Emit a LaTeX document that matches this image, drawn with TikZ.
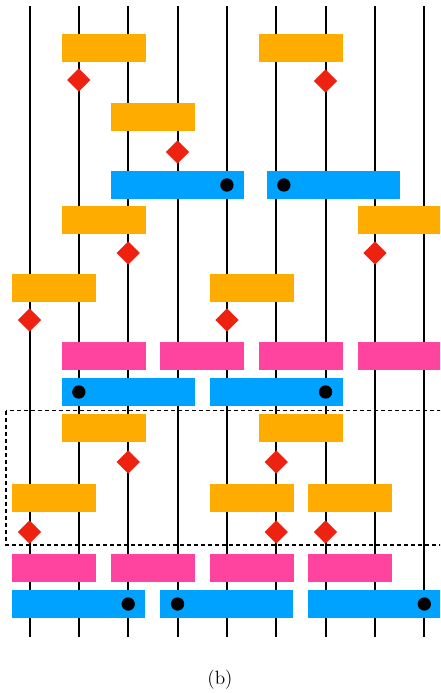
\documentclass[tikz,border=0pt]{standalone}
\usetikzlibrary{shapes.geometric}

\definecolor{opOrange}{RGB}{255,172,0}
\definecolor{opBlue}{RGB}{0,162,255}
\definecolor{opPink}{RGB}{255,68,160}
\definecolor{opRed}{RGB}{238,34,17}

\begin{document}
\begin{tikzpicture}[x=37.0125pt, y=-0.75pt,
    box/.style={rectangle, inner sep=0pt, outer sep=0pt, minimum height=21pt},
    ora/.style={box, fill=opOrange, minimum width=63pt},
    pnk/.style={box, fill=opPink, minimum width=63pt},
    blu/.style={box, fill=opBlue, minimum width=99.75pt},
    dia/.style={diamond, fill=opRed, inner sep=0pt, minimum size=17.6pt},
    dot/.style={circle, fill=black, inner sep=0pt, minimum size=10pt},
    wire/.style={line width=1.5pt}]
  \clip (-0.598,0) rectangle (8.318,693);
  % wires
  \foreach \i in {0,...,8} {
    \coordinate (t\i) at (\i,6);
    \coordinate (b\i) at (\i,637);
    \draw[wire] (t\i) -- (b\i);
  }
  % first layer
  \node[ora] (a1) at (1.5,48) {};
  \node[ora] (a2) at (5.5,48) {};
  \node[dia] (da1) at (1,80) {};
  \node[dia] (da2) at (6,81) {};
  \node[ora] (b1) at (2.5,117) {};
  \node[dia] (db1) at (3,152) {};
  \node[blu] (c1) at (3,185) {};
  \node[blu] (c2) at (6.154,185) {};
  \node[dot] (dc1) at (4,185) {};
  \node[dot] (dc2) at (5.154,185) {};
  % second layer
  \node[ora] (d1) at (1.5,220) {};
  \node[ora] (d2) at (7.5,220) {};
  \node[dia] (dd1) at (2,253) {};
  \node[dia] (dd2) at (7,253) {};
  \node[ora] (e1) at (0.5,288) {};
  \node[ora] (e2) at (4.5,288) {};
  \node[dia] (de1) at (0,320) {};
  \node[dia] (de2) at (4,320) {};
  \node[pnk] (f1) at (1.5,356) {};
  \node[pnk] (f2) at (3.5,356) {};
  \node[pnk] (f3) at (5.5,356) {};
  \node[pnk] (f4) at (7.5,356) {};
  \node[blu] (g1) at (2,392) {};
  \node[blu] (g2) at (5,392) {};
  \node[dot] (dg1) at (1,392) {};
  \node[dot] (dg2) at (6,392) {};
  % third layer
  \node[ora] (h1) at (1.5,428) {};
  \node[ora] (h2) at (5.5,428) {};
  \node[dia] (dh1) at (2,462) {};
  \node[dia] (dh2) at (5,462) {};
  \node[ora] (i1) at (0.5,498) {};
  \node[ora] (i2) at (4.5,498) {};
  \node[ora] (i3) at (6.5,498) {};
  \node[dia] (di1) at (0,532) {};
  \node[dia] (di2) at (5,532) {};
  \node[dia] (di3) at (6,532) {};
  \node[pnk] (j1) at (0.5,568) {};
  \node[pnk] (j2) at (2.5,568) {};
  \node[pnk] (j3) at (4.5,568) {};
  \node[pnk] (j4) at (6.5,568) {};
  \node[blu] (k1) at (1,604) {};
  \node[blu] (k2) at (4,604) {};
  \node[blu] (k3) at (7,604) {};
  \node[dot] (dk1) at (2,604) {};
  \node[dot] (dk2) at (3,604) {};
  \node[dot] (dk3) at (8,604) {};
  % window
  \draw[line width=1.3pt, dash pattern=on 3pt off 2.25pt] (-0.47,410.5) rectangle (8.45,544.7);
  \node[font=\Large] (cap) at (3.86,680) {(b)};
\end{tikzpicture}
\end{document}
